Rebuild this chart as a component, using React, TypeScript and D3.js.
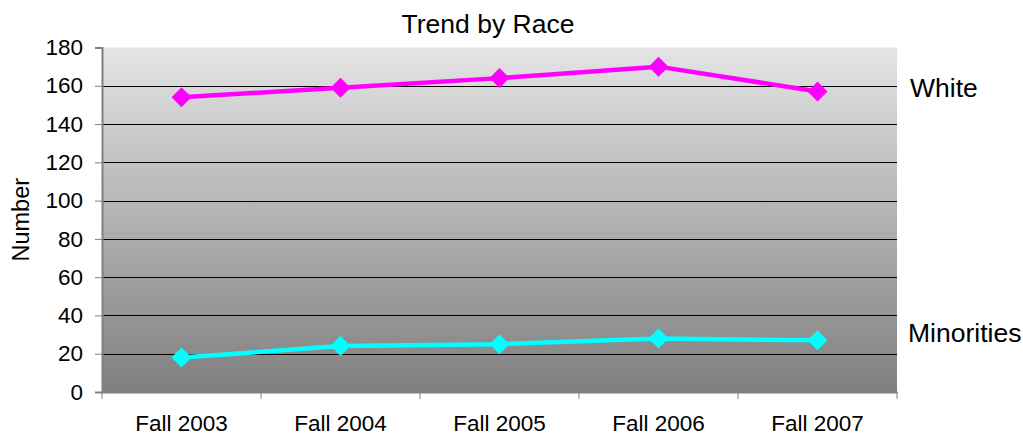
import { useEffect, useRef } from 'react';
import * as d3 from 'd3';

const categories = ['Fall 2003', 'Fall 2004', 'Fall 2005', 'Fall 2006', 'Fall 2007'];
const white = [154, 159, 164, 170, 157];
const minorities = [18, 24, 25, 28, 27];
const yTicks = [0, 20, 40, 60, 80, 100, 120, 140, 160, 180];

const seriesList = [
  { name: 'White', values: white, color: '#ff00ff', labelY: 97, labelX: 910 },
  { name: 'Minorities', values: minorities, color: '#00ffff', labelY: 342, labelX: 908 },
];

export default function App() {
  const svgRef = useRef<SVGSVGElement | null>(null);

  useEffect(() => {
    const svg = d3.select(svgRef.current);
    svg.selectAll('*').remove();

    const width = 1023;
    const height = 436;
    const margin = { top: 47.5, right: 126, bottom: 44, left: 102 };
    const font = 'Liberation Sans, Arial, sans-serif';

    const x = d3.scaleBand<string>()
      .domain(categories)
      .range([margin.left, width - margin.right]);
    const y = d3.scaleLinear()
      .domain([0, 180])
      .range([height - margin.bottom, margin.top]);

    // background gradient
    const defs = svg.append('defs');
    const grad = defs.append('linearGradient')
      .attr('id', 'bg')
      .attr('x1', 0).attr('y1', 0).attr('x2', 0).attr('y2', 1);
    grad.append('stop').attr('offset', '0%').attr('stop-color', '#e4e4e4');
    grad.append('stop').attr('offset', '100%').attr('stop-color', '#7f7f7f');

    svg.append('rect')
      .attr('x', margin.left)
      .attr('y', y(180))
      .attr('width', width - margin.right - margin.left)
      .attr('height', y(0) - y(180))
      .attr('fill', 'url(#bg)');

    // gridlines
    svg.append('g')
      .selectAll('line')
      .data(yTicks.filter((d) => d > 0 && d < 180))
      .join('line')
      .attr('x1', margin.left)
      .attr('x2', width - margin.right)
      .attr('y1', (d) => Math.round(y(d)) + 0.5)
      .attr('y2', (d) => Math.round(y(d)) + 0.5)
      .attr('stroke', '#000')
      .attr('stroke-width', 1);

    // y axis
    const yAxis = svg.append('g')
      .attr('transform', `translate(${margin.left},0)`)
      .call(d3.axisLeft(y).tickValues(yTicks).tickSize(7).tickPadding(12));
    yAxis.select('.domain').attr('stroke', '#808080').attr('stroke-width', 2);
    yAxis.selectAll('.tick line').attr('stroke', '#808080');
    yAxis.selectAll('text')
      .attr('font-family', font)
      .attr('font-size', 22.5)
      .attr('fill', '#000');

    // x axis
    const xAxis = svg.append('g')
      .attr('transform', `translate(0,${y(0)})`)
      .call(d3.axisBottom(x).tickSize(0).tickPadding(23));
    xAxis.select('.domain').attr('stroke', '#808080').attr('stroke-width', 2);
    xAxis.selectAll('text')
      .attr('font-family', font)
      .attr('font-size', 22.5)
      .attr('fill', '#000');
    xAxis.selectAll('.bound')
      .data([...categories.map((c) => x(c) as number), width - margin.right])
      .join('line')
      .attr('class', 'bound')
      .attr('x1', (d) => d)
      .attr('x2', (d) => d)
      .attr('y1', 0)
      .attr('y2', 7)
      .attr('stroke', '#808080');

    const cx = (c: string) => (x(c) as number) + x.bandwidth() / 2;

    // series
    seriesList.forEach((s) => {
      const line = d3.line<number>()
        .x((_, i) => cx(categories[i]))
        .y((d) => y(d));
      svg.append('path')
        .datum(s.values)
        .attr('d', line)
        .attr('fill', 'none')
        .attr('stroke', s.color)
        .attr('stroke-width', 4.5);

      svg.append('g')
        .selectAll('path')
        .data(s.values)
        .join('path')
        .attr('d', d3.symbol(d3.symbolSquare, 200))
        .attr('transform', (d, i) => `translate(${cx(categories[i])},${y(d)}) rotate(45)`)
        .attr('fill', s.color);

      svg.append('text')
        .attr('x', s.labelX)
        .attr('y', s.labelY)
        .attr('font-family', font)
        .attr('font-size', 26.5)
        .text(s.name);
    });

    // title
    svg.append('text')
      .attr('x', 488)
      .attr('y', 33)
      .attr('text-anchor', 'middle')
      .attr('font-family', font)
      .attr('font-size', 26.5)
      .text('Trend by Race');

    // y label
    svg.append('text')
      .attr('transform', `translate(29,${(y(0) + y(180)) / 2}) rotate(-90)`)
      .attr('text-anchor', 'middle')
      .attr('font-family', font)
      .attr('font-size', 23.5)
      .text('Number');
  }, []);

  return (
    <svg
      ref={svgRef}
      width={1023}
      height={436}
      style={{ position: 'absolute', left: 0, top: 0, background: '#fff' }}
    />
  );
}
